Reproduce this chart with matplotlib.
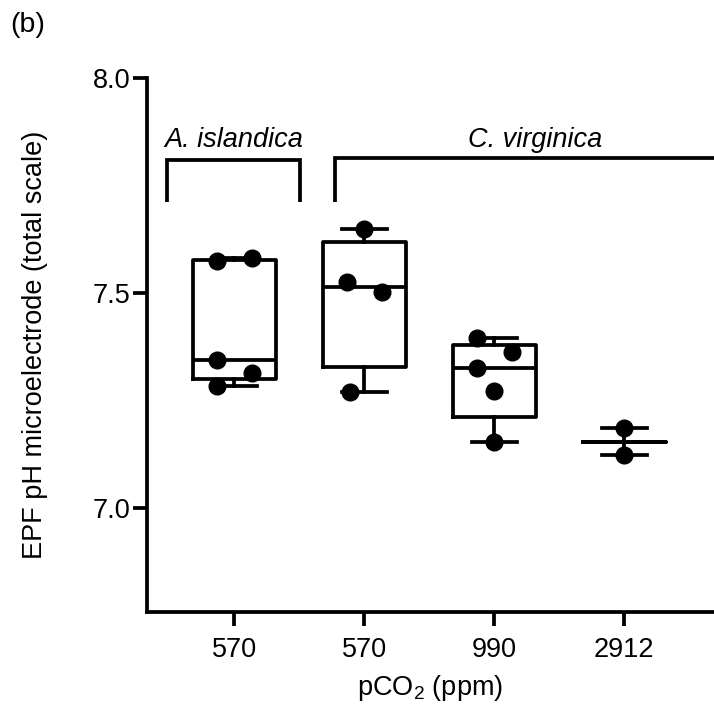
import numpy as np
import matplotlib
matplotlib.use("Agg")
import matplotlib.pyplot as plt

plt.rcParams['font.family'] = ['Liberation Sans', 'DejaVu Sans']
plt.rcParams['mathtext.fontset'] = 'custom'
plt.rcParams['mathtext.rm'] = 'Liberation Sans'
plt.rcParams['mathtext.it'] = 'Liberation Sans:italic'

# ---- data ----
tick_labels = ["570", "570", "990", "2912"]
g1_values = [7.574, 7.581, 7.344, 7.314, 7.284]   # A. islandica 570
g2_values = [7.649, 7.526, 7.502, 7.270]          # C. virginica 570
g3_values = [7.395, 7.363, 7.326, 7.272, 7.153]   # C. virginica 990
g4_values = [7.186, 7.123]                        # C. virginica 2912
groups = [g1_values, g2_values, g3_values, g4_values]
# horizontal jitter of the points within each group
g_offsets = [[-0.135, 0.135, -0.135, 0.135, -0.135],
             [0.0, -0.135, 0.135, -0.11],
             [-0.13, 0.135, -0.13, 0.0, 0.0],
             [0.0, 0.0]]
species = ["A. islandica", "C. virginica"]

LW = 2.7
fig = plt.figure(figsize=(7.14, 7.05), dpi=100)
ax = fig.add_axes([147/714, 1-612/705, 1-147/714, (612-78)/705])

positions = np.arange(len(groups))
stats = []
for vals in groups:
    v = np.array(vals)
    med = np.median(v)
    if len(v) >= 3:
        q1, q3 = np.percentile(v, [25, 75], method='weibull')
    else:
        q1 = q3 = med
    stats.append(dict(med=med, q1=q1, q3=q3, whislo=v.min(), whishi=v.max(), fliers=[]))

ax.bxp(stats, positions=positions, widths=0.64, showfliers=False,
       boxprops=dict(color='black', linewidth=LW),
       medianprops=dict(color='black', linewidth=LW),
       whiskerprops=dict(color='black', linewidth=LW),
       capprops=dict(color='black', linewidth=LW),
       capwidths=0.35, manage_ticks=False, zorder=2)

for p, vals, offs in zip(positions, groups, g_offsets):
    ax.plot(p + np.array(offs), vals, 'o', color='black', markersize=12,
            zorder=3, clip_on=False)

ax.set_xlim(-0.673, 3.69)
ax.set_ylim(6.758, 8.0)
ax.set_yticks([7.0, 7.5, 8.0])
ax.set_yticklabels(["7.0", "7.5", "8.0"])
ax.set_xticks(positions)
ax.set_xticklabels(tick_labels)
ax.tick_params(axis='both', labelsize=19.5, width=LW, length=10, color='black')
ax.tick_params(axis='x', pad=8)
ax.tick_params(axis='y', pad=2)
for s in ['top', 'right']:
    ax.spines[s].set_visible(False)
for s in ['left', 'bottom']:
    ax.spines[s].set_linewidth(LW)

# brackets
ytop, ybot = 7.809, 7.712
ax.plot([-0.52, -0.52, 0.504, 0.504], [ybot, ytop, ytop, ybot], color='black',
        linewidth=LW, clip_on=False, solid_capstyle='butt', solid_joinstyle='miter')
ax.plot([0.773, 0.773, 3.70], [ybot, ytop + 0.004, ytop + 0.004], color='black',
        linewidth=LW, clip_on=True, solid_capstyle='butt', solid_joinstyle='miter')
ax.text(-0.005, 7.855, species[0], style='italic', fontsize=19.5, ha='center', va='center')
ax.text(2.31, 7.855, species[1], style='italic', fontsize=19.5, ha='center', va='center')

ax.set_xlabel('pCO$_2$ (ppm)', fontsize=19.5, labelpad=7)
fig.text(35/714, 1-345/705, 'EPF pH microelectrode (total scale)', rotation=90,
         fontsize=19.5, ha='center', va='center')
fig.text(10/714, 1-25/705, '(b)', fontsize=20.5, ha='left', va='center')

fig.savefig('out.png', dpi=100)
